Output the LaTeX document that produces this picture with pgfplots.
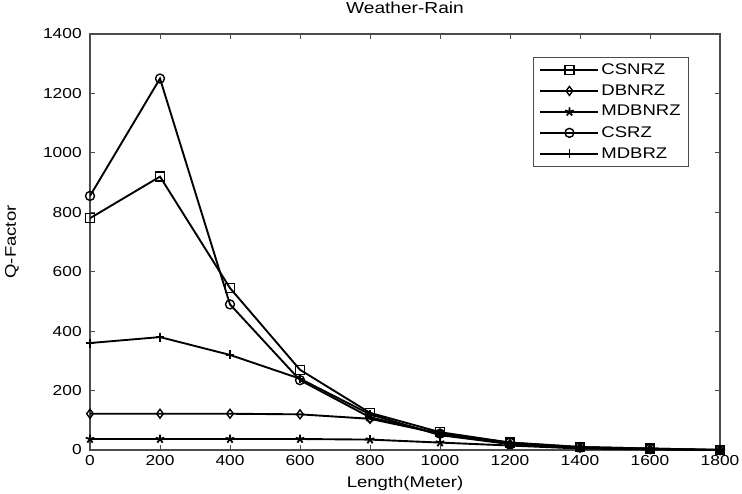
\documentclass[border=0pt]{standalone}
\usepackage{pgfplots}
\pgfplotsset{compat=1.18}
\usepackage{fontspec}
\setmainfont[FakeStretch=1.2]{Liberation Sans}
\begin{document}
\fontsize{15.5}{18}\selectfont
\begin{tikzpicture}
  \begin{axis}[
    name=ax,
    scale only axis,
    width=630bp, height=416bp,
    xmin=0, xmax=1800, ymin=0, ymax=1400,
    xtick={0,200,...,1800},
    ytick={0,200,...,1400},
    tick align=inside,
    major tick length=5bp,
    axis line style={black!70, line width=1.2pt},
    every tick/.style={black!70, line width=1pt},
    /pgf/number format/assume math mode=true,
    /pgf/number format/1000 sep={},
    tick label style={font=\fontsize{14.5}{17}\selectfont},
    yticklabel style={xshift=-3bp},
    title={Weather-Rain},
    title style={at={(axis description cs:0.5,1.048)}, anchor=center,
      font=\fontsize{16}{18}\selectfont},
    xlabel={Length(Meter)},
    ylabel={Q-Factor},
    xlabel style={at={(axis description cs:0.5,-0.0817)}, anchor=center},
    ylabel style={at={(axis description cs:-0.1238,0.5)}, anchor=center},
    legend style={at={(0.951,0.945)}, anchor=north east, draw=black!70,
      line width=1pt, font=\fontsize{15.5}{18}\selectfont,
      row sep=4bp, inner xsep=6bp, inner ysep=4bp},
    legend cell align=left,
    legend image code/.code={
      \draw[mark repeat=2,mark phase=2] plot coordinates {(0bp,0bp) (29bp,0bp) (58bp,0bp)};},
    every axis plot/.append style={black, line width=1.9pt, mark size=4.5pt},
  ]
    \addplot[mark=square, mark options={solid, line width=1.4pt}] coordinates {
      (0,780) (200,920) (400,545) (600,270) (800,125) (1000,60) (1200,25) (1400,10) (1600,5) (1800,0)};
    \addlegendentry{CSNRZ}
    \addplot[mark=diamond, mark options={line width=1.4pt}] coordinates {
      (0,122) (200,122) (400,122) (600,120) (800,105) (1000,55) (1200,20) (1400,8) (1600,3) (1800,0)};
    \addlegendentry{DBNRZ}
    \addplot[mark=star, mark options={line width=1.8pt}] coordinates {
      (0,37) (200,37) (400,37) (600,37) (800,35) (1000,25) (1200,15) (1400,5) (1600,2) (1800,0)};
    \addlegendentry{MDBNRZ}
    \addplot[mark=o, mark options={line width=1.4pt}] coordinates {
      (0,855) (200,1250) (400,490) (600,235) (800,110) (1000,55) (1200,25) (1400,10) (1600,5) (1800,0)};
    \addlegendentry{CSRZ}
    \addplot[mark=+, mark options={line width=1.4pt}] coordinates {
      (0,360) (200,380) (400,320) (600,240) (800,120) (1000,50) (1200,20) (1400,8) (1600,3) (1800,0)};
    \addlegendentry{MDBRZ}
  \end{axis}
  \pgfresetboundingbox
  \path[use as bounding box] ([shift={(-90bp,-44bp)}]ax.south west)
    rectangle ([shift={(22bp,34bp)}]ax.north east);
\end{tikzpicture}
\end{document}
